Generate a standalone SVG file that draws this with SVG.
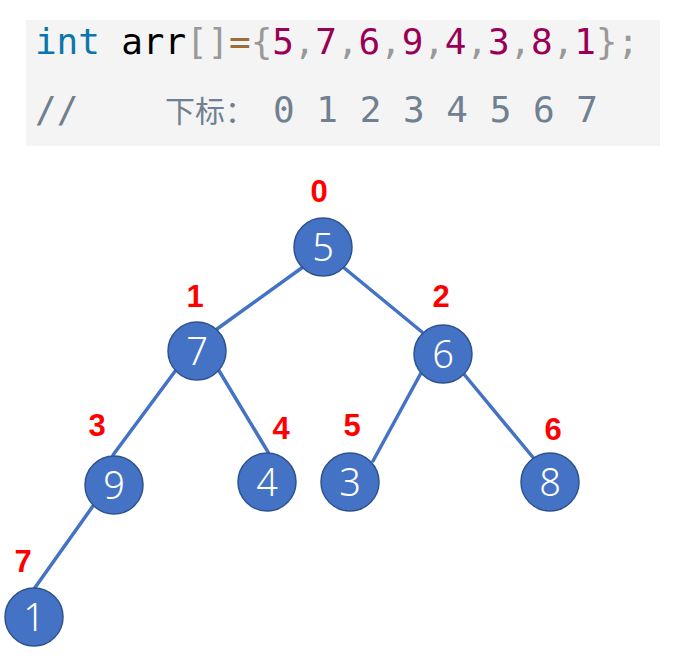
<svg xmlns="http://www.w3.org/2000/svg" width="691" height="663" viewBox="0 0 691 663">
<style>
.code{font-family:"DejaVu Sans Mono","Liberation Mono",monospace;font-size:36px}
.kw{fill:#0a77aa}.pn{fill:#999999}.op{fill:#9a6e3a}.num{fill:#990055}.cm{fill:#708090}
.edge{stroke:#4472C4;stroke-width:3.5;fill:none;stroke-linecap:round}
.node circle{fill:#4472C4;stroke:#2F528F;stroke-width:1.5}
.node text{fill:#ffffff;font-family:"Noto Sans","Liberation Sans",sans-serif;font-weight:300;font-size:38px;text-anchor:middle}
.idx{fill:#ff0000;font-family:"Liberation Sans",Arial,sans-serif;font-weight:bold;font-size:31px;text-anchor:middle}
</style>
<rect x="26" y="20" width="634" height="126" fill="#f4f4f4"/>
<text class="code" x="35" y="54" textLength="604" lengthAdjust="spacing"><tspan class="kw">int</tspan> arr<tspan class="pn">[]</tspan><tspan class="op">=</tspan><tspan class="pn">{</tspan><tspan class="num">5</tspan><tspan class="pn">,</tspan><tspan class="num">7</tspan><tspan class="pn">,</tspan><tspan class="num">6</tspan><tspan class="pn">,</tspan><tspan class="num">9</tspan><tspan class="pn">,</tspan><tspan class="num">4</tspan><tspan class="pn">,</tspan><tspan class="num">3</tspan><tspan class="pn">,</tspan><tspan class="num">8</tspan><tspan class="pn">,</tspan><tspan class="num">1</tspan><tspan class="pn">};</tspan></text>
<text class="code cm" x="35" y="122">//</text>
<text class="cm" x="165" y="122" style="font-family:'Noto Sans CJK SC',sans-serif;font-size:30px">下标：</text>
<text class="code cm" x="273" y="122" textLength="325" lengthAdjust="spacing">0 1 2 3 4 5 6 7</text>
<g id="connectors">
<line class="edge" x1="303" y1="267" x2="217" y2="329"/>
<line class="edge" x1="343" y1="267" x2="422" y2="332"/>
<line class="edge" x1="176" y1="370" x2="113" y2="455"/>
<line class="edge" x1="218" y1="369" x2="268" y2="452"/>
<line class="edge" x1="421" y1="373" x2="373" y2="461"/>
<line class="edge" x1="463" y1="373" x2="536" y2="461"/>
<line class="edge" x1="93" y1="506" x2="34" y2="589"/>
</g>
<g id="n0" class="node"><circle cx="323" cy="247" r="29"/><text x="323" y="261">5</text></g>
<g id="n1" class="node"><circle cx="197" cy="351" r="29"/><text x="197" y="365">7</text></g>
<g id="n2" class="node"><circle cx="443" cy="354" r="29"/><text x="443" y="368">6</text></g>
<g id="n3" class="node"><circle cx="114" cy="485" r="29"/><text x="114" y="499">9</text></g>
<g id="n4" class="node"><circle cx="267" cy="482" r="29"/><text x="267" y="496">4</text></g>
<g id="n5" class="node"><circle cx="350" cy="482" r="29"/><text x="350" y="496">3</text></g>
<g id="n6" class="node"><circle cx="550" cy="482" r="29"/><text x="550" y="496">8</text></g>
<g id="n7" class="node"><circle cx="34" cy="617" r="29"/><text x="34" y="631">1</text></g>
<g id="labels">
<text class="idx" x="319" y="202">0</text>
<text class="idx" x="195" y="307">1</text>
<text class="idx" x="441" y="307">2</text>
<text class="idx" x="97" y="436">3</text>
<text class="idx" x="281" y="439">4</text>
<text class="idx" x="352" y="436">5</text>
<text class="idx" x="553" y="440">6</text>
<text class="idx" x="23" y="572">7</text>
</g>
</svg>
